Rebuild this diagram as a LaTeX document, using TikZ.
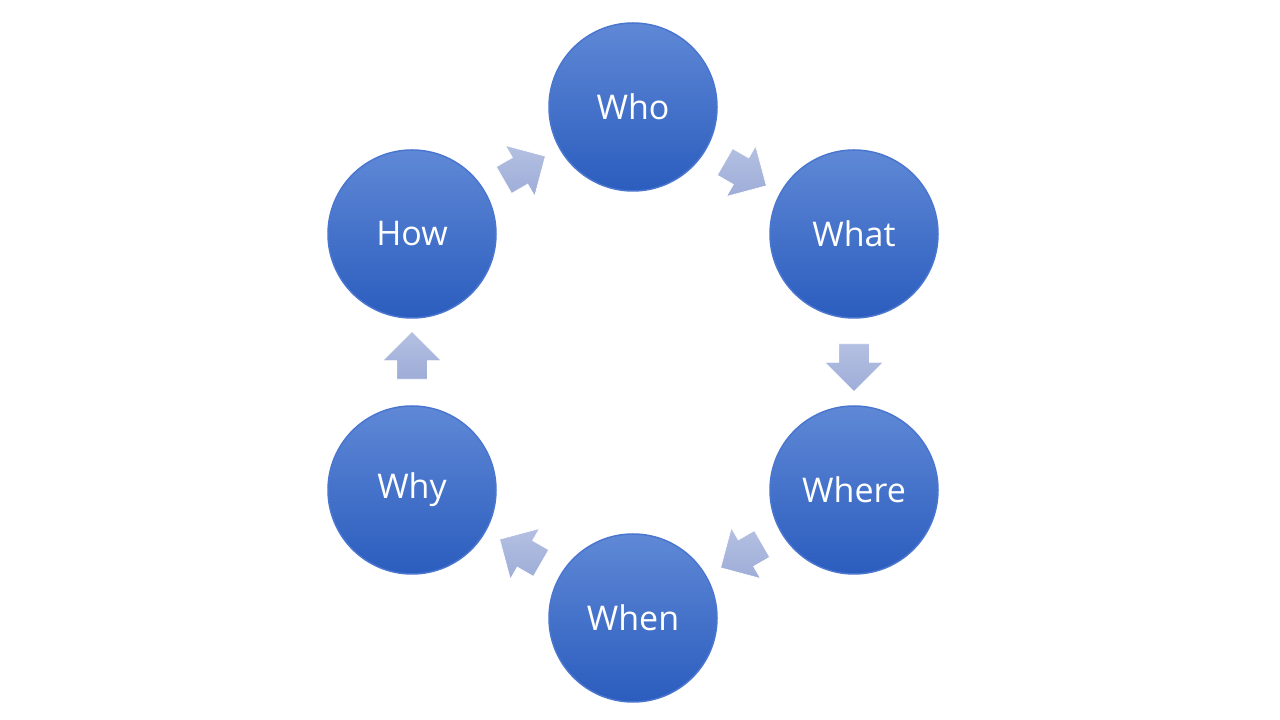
\documentclass[tikz,border=0pt]{standalone}
\usepackage{fontspec}
\setmainfont{Open Sans}
\usetikzlibrary{shapes.arrows}
\definecolor{balltop}{HTML}{5F88D6}
\definecolor{ballbot}{HTML}{2B5DBE}
\definecolor{ballrim}{HTML}{4A76CF}
\definecolor{arrowtop}{HTML}{B4C0E2}
\definecolor{arrowbot}{HTML}{9EADD8}
\tikzset{
  ball/.style={circle, minimum size=168pt, inner sep=0pt, top color=balltop,
    bottom color=ballbot, draw=ballrim, line width=1.5pt, text=white,
    font=\fontsize{34}{40}\selectfont},
  flow/.style={single arrow, minimum height=48pt, inner sep=0pt,
    text width=0pt, text height=15pt, text depth=15pt,
    single arrow head extend=14pt, single arrow head indent=0pt,
    top color=arrowtop, bottom color=arrowbot, draw=white, line width=0.8pt}
}
\begin{document}
\begin{tikzpicture}[x=1pt,y=1pt]
\useasboundingbox[fill=white] (0,0) rectangle (1280,720);

\node[ball] (who) at (633,613) {Who};
\node[ball] (what) at (854,486) {What};
\node[ball] (where) at (854,230) {Where};
\node[ball] (when) at (633,102) {When};
\node[ball] (why) at (412,230) {Why};
\node[ball] (how) at (412,486) {How};

% arrows between the balls
\node[flow, rotate=-30] (a1) at (739,550) {};
\node[flow, rotate=-90] (a2) at (854,360) {};
\node[flow, rotate=210] (a3) at (748,168) {};
\node[flow, rotate=150] (a4) at (527,165) {};
\node[flow, rotate=90] (a5) at (412,357) {};
\node[flow, rotate=30] (a6) at (518,548) {};
\end{tikzpicture}
\end{document}
